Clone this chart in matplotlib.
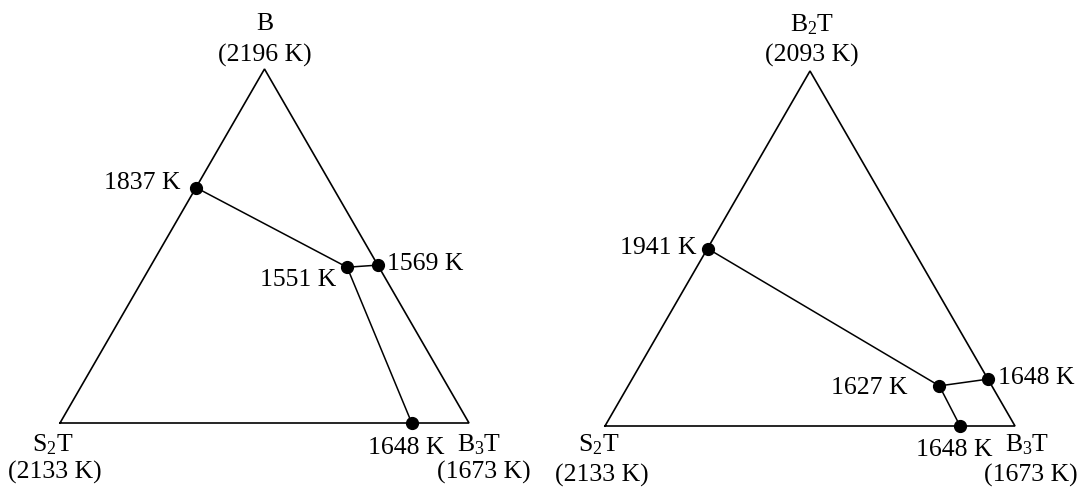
import matplotlib
matplotlib.use('Agg')
import matplotlib.pyplot as plt
import numpy as np

# compositions (fractions) of the invariant points: top vertex / B3T, rest is S2T
left_labels = ['1837 K', '1551 K', '1569 K', '1648 K']
left_top = [0.665, 0.440, 0.446, 0.0]
left_b3t = [0.0, 0.482, 0.554, 0.860]

right_labels = ['1941 K', '1627 K', '1648 K', '1648 K']
right_top = [0.500, 0.113, 0.132, 0.0]
right_b3t = [0.0, 0.759, 0.868, 0.866]

# boundary lines between invariant points (index pairs)
links = [(0, 1), (1, 2), (1, 3)]

left_vertices = ['B', 'S$_\\mathrm{2}$T', 'B$_\\mathrm{3}$T']
left_melts = ['(2196 K)', '(2133 K)', '(1673 K)']
right_vertices = ['B$_\\mathrm{2}$T', 'S$_\\mathrm{2}$T', 'B$_\\mathrm{3}$T']
right_melts = ['(2093 K)', '(2133 K)', '(1673 K)']

plt.rcParams.update({
    'font.family': ['Liberation Serif', 'DejaVu Serif'],
    'font.size': 18.5,
    'mathtext.fontset': 'custom',
    'mathtext.rm': 'Liberation Serif',
    'mathtext.it': 'Liberation Serif:italic',
})

H = np.sqrt(3) / 2


def to_xy(top, b3t):
    top = np.asarray(top)
    b3t = np.asarray(b3t)
    return b3t + top / 2, top * H


def draw_panel(ax, labels, top, b3t, vertices, melts, offsets, vpos):
    ax.plot([0, 1, 0.5, 0], [0, 0, H, 0], color='black', lw=1.2,
            solid_joinstyle='miter', clip_on=False)
    x, y = to_xy(top, b3t)
    for i, j in links:
        ax.plot([x[i], x[j]], [y[i], y[j]], color='black', lw=1.1, clip_on=False)
    ax.plot(x, y, 'o', color='black', ms=8.5, clip_on=False, zorder=3)
    for k, lab in enumerate(labels):
        dx, dy, ha = offsets[k]
        ax.annotate(lab, xy=(x[k], y[k]), xytext=(dx, dy),
                    textcoords='offset points', ha=ha, va='center')
    for (vx, vy, mx, my), name, melt in zip(vpos, vertices, melts):
        ax.text(vx, vy, name, ha='center', va='center')
        ax.text(mx, my, melt, ha='center', va='center')
    ax.set_xlim(0, 1)
    ax.set_ylim(0, H)
    ax.axis('off')


fig = plt.figure(figsize=(10.8, 4.88), dpi=100)
ax1 = fig.add_axes([60 / 1080, 65 / 488, 409 / 1080, 354 / 488])
ax2 = fig.add_axes([605 / 1080, 62 / 488, 410 / 1080, 355 / 488])

left_offsets = [(-11, 3.6, 'right'), (-8, -9, 'right'), (6.5, 0.7, 'left'), (-3.6, -18, 'center')]
right_offsets = [(-8, 0.7, 'right'), (-23, -1.4, 'right'), (7, 0.7, 'left'), (-4.3, -17.5, 'center')]

left_vpos = [(0.50, 0.975, 0.50, 0.900),
             (-0.017, -0.054, -0.012, -0.122),
             (1.024, -0.054, 1.037, -0.122)]
right_vpos = [(0.505, 0.978, 0.505, 0.905),
              (-0.015, -0.046, -0.007, -0.120),
              (1.029, -0.046, 1.039, -0.120)]

draw_panel(ax1, left_labels, left_top, left_b3t, left_vertices, left_melts,
           left_offsets, left_vpos)
draw_panel(ax2, right_labels, right_top, right_b3t, right_vertices, right_melts,
           right_offsets, right_vpos)

fig.savefig('out.png', dpi=100)
